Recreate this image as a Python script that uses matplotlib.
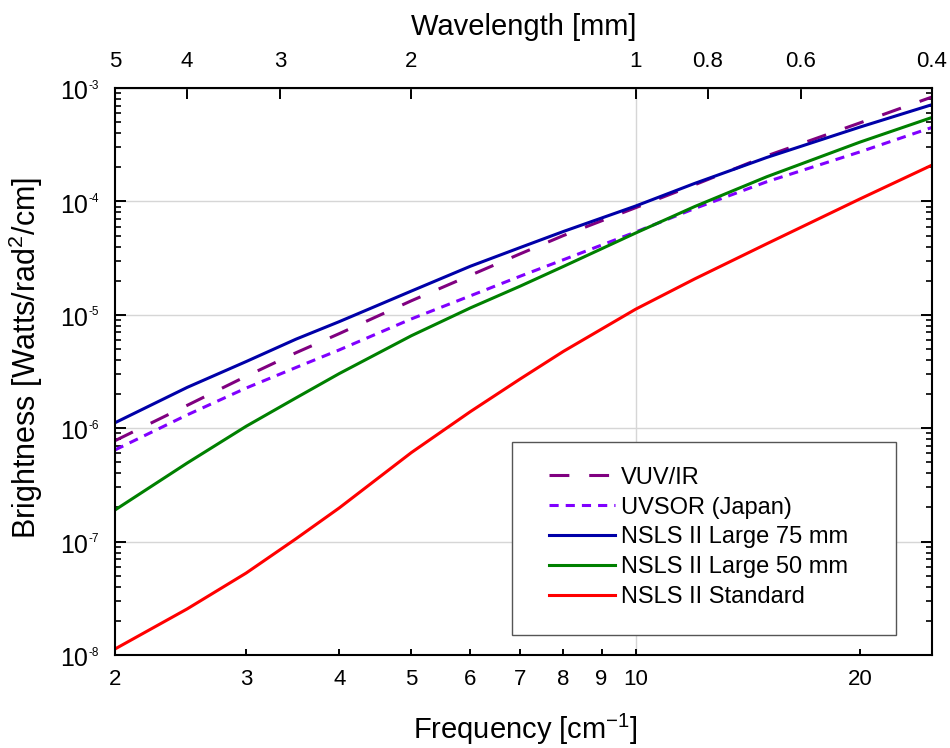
import numpy as np
import matplotlib.pyplot as plt
from matplotlib.patches import Rectangle
from matplotlib.ticker import FixedLocator, FixedFormatter, NullLocator, NullFormatter, LogLocator

plt.rcParams['font.family'] = ['Liberation Sans', 'DejaVu Sans']
plt.rcParams['mathtext.fontset'] = 'custom'
plt.rcParams['mathtext.rm'] = 'Liberation Sans'
plt.rcParams['mathtext.it'] = 'Liberation Sans:italic'

# frequency in cm^-1, brightness in Watts/rad^2/cm
freq = [2, 2.5, 3, 3.5, 4, 5, 6, 7, 8, 10, 12, 15, 20, 25]
vuv_ir = [7.76e-7, 1.59e-6, 2.87e-6, 4.63e-6, 6.82e-6, 1.33e-5, 2.23e-5, 3.45e-5, 5.0e-5, 8.8e-5, 1.40e-4, 2.52e-4, 4.92e-4, 8.33e-4]
uvsor = [6.43e-7, 1.31e-6, 2.26e-6, 3.43e-6, 4.9e-6, 9.2e-6, 1.47e-5, 2.19e-5, 3.06e-5, 5.37e-5, 8.65e-5, 1.49e-4, 2.73e-4, 4.49e-4]
large75 = [1.117e-6, 2.29e-6, 3.87e-6, 6.1e-6, 8.7e-6, 1.62e-5, 2.68e-5, 3.92e-5, 5.43e-5, 9.1e-5, 1.44e-4, 2.44e-4, 4.52e-4, 7.13e-4]
large50 = [1.90e-7, 4.93e-7, 1.04e-6, 1.85e-6, 3.03e-6, 6.54e-6, 1.15e-5, 1.79e-5, 2.67e-5, 5.26e-5, 9.0e-5, 1.65e-4, 3.33e-4, 5.5e-4]
standard = [1.13e-8, 2.55e-8, 5.28e-8, 1.06e-7, 1.98e-7, 6.1e-7, 1.40e-6, 2.72e-6, 4.76e-6, 1.12e-5, 2.07e-5, 4.23e-5, 1.05e-4, 2.09e-4]

freq_ticks = [2, 3, 4, 5, 6, 7, 8, 9, 10, 20]
freq_labels = ['2', '3', '4', '5', '6', '7', '8', '9', '10', '20']
wl_ticks = [5, 4, 3, 2, 1, 0.8, 0.6, 0.4]
wl_labels = ['5', '4', '3', '2', '1', '0.8', '0.6', '0.4']
decades = [-8, -7, -6, -5, -4, -3]


def to_mm(f):
    f = np.asarray(f, dtype=float)
    with np.errstate(divide='ignore'):
        return 10.0 / f


fig = plt.figure(figsize=(9.5, 7.48), dpi=100)
ax = fig.add_axes([115/950, 1-655/748, 817/950, 567/748])

lw = 2.2
ax.plot(freq, vuv_ir, color='#800080', lw=lw, dashes=(6.5, 6.5), label='VUV/IR')
ax.plot(freq, uvsor, color='#8000ff', lw=lw, dashes=(3, 2.3), label='UVSOR (Japan)')
ax.plot(freq, large75, color='#0000a8', lw=lw, label='NSLS II Large 75 mm')
ax.plot(freq, large50, color='#008000', lw=lw, label='NSLS II Large 50 mm')
ax.plot(freq, standard, color='#ff0000', lw=lw, label='NSLS II Standard')

ax.set_xscale('log')
ax.set_yscale('log')
ax.set_xlim(2, 25)
ax.set_ylim(1e-8, 1e-3)

ax.grid(axis='y', which='major', color='#d6d6d6', lw=1)
ax.axvline(10, color='#d6d6d6', lw=1, zorder=0)
ax.set_axisbelow(True)

for s in ax.spines.values():
    s.set_linewidth(1.5)

ax.xaxis.set_major_locator(FixedLocator(freq_ticks))
ax.xaxis.set_major_formatter(FixedFormatter(freq_labels))
ax.xaxis.set_minor_locator(NullLocator())
ax.tick_params(axis='x', which='major', direction='in', length=4, width=1.4,
               labelsize=16, pad=10, top=False)

ax.yaxis.set_major_locator(LogLocator(base=10, numticks=10))
ax.yaxis.set_minor_locator(LogLocator(base=10, subs=np.arange(2, 10), numticks=20))
ax.yaxis.set_major_formatter(NullFormatter())
ax.yaxis.set_minor_formatter(NullFormatter())
ax.tick_params(axis='y', which='major', direction='in', length=8, width=1.4, left=True, right=True)
ax.tick_params(axis='y', which='minor', direction='in', length=4, width=1.2, left=True, right=True)

# y tick labels with a small exponent
for d in decades:
    ax.annotate('10', xy=(0, 10.0**d), xycoords=('axes fraction', 'data'),
                xytext=(-19.4, -8.1), textcoords='offset points',
                ha='right', va='baseline', fontsize=18)
    ax.annotate(str(d), xy=(0, 10.0**d), xycoords=('axes fraction', 'data'),
                xytext=(-19.2, -0.5), textcoords='offset points',
                ha='left', va='baseline', fontsize=8.5)

sec = ax.secondary_xaxis('top', functions=(to_mm, to_mm))
sec.set_ticks(wl_ticks, labels=wl_labels)
sec.tick_params(which='major', direction='in', length=8, width=1.4, labelsize=16, pad=11.8)
sec.tick_params(which='minor', length=0, top=False, labeltop=False)
sec.set_xlabel('Wavelength [mm]', fontsize=21, labelpad=11)

ax.set_xlabel(r'Frequency [cm$^{-1}$]', fontsize=21)
ax.xaxis.set_label_coords(0.502, -0.101)
ax.set_ylabel(r'Brightness [Watts/rad$^{2}$/cm]', fontsize=22)
ax.yaxis.set_label_coords(-0.0857, 0.523)

ax.add_patch(Rectangle((0.4863, 0.0353), 0.4693, 0.3409, transform=ax.transAxes,
                       fill=True, facecolor='white', edgecolor='#555555', lw=1.0, zorder=3))
leg = ax.legend(loc='upper left', bbox_to_anchor=(0.531, 0.332), frameon=False,
                fontsize=17, handlelength=2.8, handletextpad=0.25, labelspacing=0.33,
                borderpad=0, borderaxespad=0)
leg.set_zorder(4)

fig.savefig('out.png', dpi=100)
